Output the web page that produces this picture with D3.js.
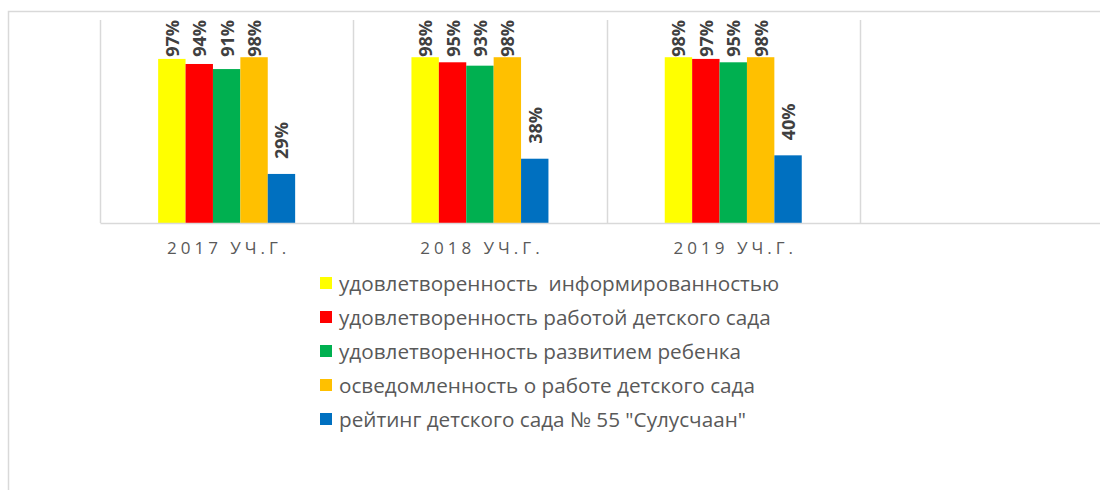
<!DOCTYPE html>
<html lang="ru">
<head>
<meta charset="UTF-8">
<title>Chart</title>
<style>
  html, body { margin:0; padding:0; background:#fff; }
  svg { display:block; }
</style>
</head>
<body>
<div class="chart"></div>
<script src="https://d3js.org/d3.v7.min.js"></script>
<script>
const categories = ["2017 УЧ.Г.", "2018 УЧ.Г.", "2019 УЧ.Г.", ""];
const seriesNames = [
  "удовлетворенность  информированностью",
  "удовлетворенность работой детского сада",
  "удовлетворенность развитием ребенка",
  "осведомленность о работе детского сада",
  "рейтинг детского сада № 55 \"Сулусчаан\""
];
const seriesColors = ["#FFFF00", "#FF0000", "#00B050", "#FFC000", "#0070C0"];
const informed = [0.97, 0.98, 0.98];
const workSat = [0.94, 0.95, 0.97];
const developSat = [0.91, 0.93, 0.95];
const awareness = [0.98, 0.98, 0.98];
const rating = [0.29, 0.38, 0.40];
const seriesValues = [informed, workSat, developSat, awareness, rating];

const width = 1100, height = 490;
const plotLeft = 100, plotTop = 20, plotBottom = 223;
const font = '"Open Sans", "Noto Sans", sans-serif';

const svg = d3.select('.chart').append('svg')
  .attr('width', width).attr('height', height);

svg.append('defs').append('clipPath').attr('id', 'clip')
  .append('rect').attr('x', 0).attr('y', 0).attr('width', width).attr('height', height);

// outer frame (only top and left edges visible)
svg.append('path')
  .attr('d', `M8.5,${height} V11.5 H${width}`)
  .attr('fill', 'none').attr('stroke', '#d9d9d9').attr('stroke-width', 1.5);

const x0 = d3.scaleBand().domain(categories).range([plotLeft, plotLeft + 4 * 253.3]).padding(0);
const groupW = 137;
const x1 = d3.scaleBand().domain(d3.range(seriesNames.length))
  .range([(x0.bandwidth() - groupW) / 2, (x0.bandwidth() + groupW) / 2]).padding(0);
const y = d3.scaleLinear().domain([0, 1.2]).range([plotBottom, plotTop]);

const g = svg.append('g').attr('clip-path', 'url(#clip)');

// category separators
const seps = categories.map((c) => x0(c)).concat([x0.range()[1]]);
g.selectAll('.sep').data(seps).join('line')
  .attr('x1', d => Math.round(d) + 0.5).attr('x2', d => Math.round(d) + 0.5)
  .attr('y1', plotTop).attr('y2', plotBottom)
  .attr('stroke', '#d9d9d9').attr('stroke-width', 1.5);

// bars
const rows = [];
seriesValues.forEach((vals, s) => {
  vals.forEach((v, i) => rows.push({ s, cat: categories[i], v }));
});

g.selectAll('.bar').data(rows).join('rect')
  .attr('class', 'bar')
  .attr('x', d => x0(d.cat) + x1(d.s))
  .attr('y', d => y(d.v))
  .attr('width', x1.bandwidth())
  .attr('height', d => plotBottom - y(d.v))
  .attr('fill', d => seriesColors[d.s]);

// x axis
const xAxis = d3.axisBottom(x0).tickSize(0).tickPadding(19);
const ax = g.append('g').attr('transform', `translate(0,${plotBottom})`).call(xAxis);
ax.select('.domain').attr('stroke', '#d9d9d9').attr('stroke-width', 1.5);
ax.selectAll('text')
  .attr('fill', '#595959')
  .attr('dx', 2)
  .style('font-family', font)
  .style('font-size', '17px')
  .style('letter-spacing', '4px');

// value labels, rotated
const labels = g.selectAll('.lbl').data(rows).join('text')
  .attr('class', 'lbl')
  .text(d => d3.format('.0%')(d.v))
  .attr('fill', '#404040')
  .style('font-family', font)
  .style('font-weight', 'bold')
  .style('font-size', '18px')
  .attr('text-anchor', 'start')
  .attr('dominant-baseline', 'central');

labels.each(function (d) {
  const len = this.getComputedTextLength();
  const cx = x0(d.cat) + x1(d.s) + x1.bandwidth() / 2;
  let end = y(d.v) - 15;
  if (end - len < 20) end = 20 + len;
  d3.select(this).attr('transform', `translate(${cx},${end}) rotate(-90)`);
});

// legend
const legend = svg.append('g').attr('transform', 'translate(320,283)');
const items = legend.selectAll('g').data(seriesNames).join('g')
  .attr('transform', (d, i) => `translate(0,${i * 34})`);
items.append('rect')
  .attr('x', 0).attr('y', -6).attr('width', 12).attr('height', 12)
  .attr('fill', (d, i) => seriesColors[i]);
items.append('text')
  .attr('x', 19).attr('y', 0)
  .attr('dominant-baseline', 'central')
  .attr('fill', '#595959')
  .style('font-family', font)
  .style('font-size', '20.7px')
  .style('white-space', 'pre')
  .text(d => d);
</script>
</body>
</html>
